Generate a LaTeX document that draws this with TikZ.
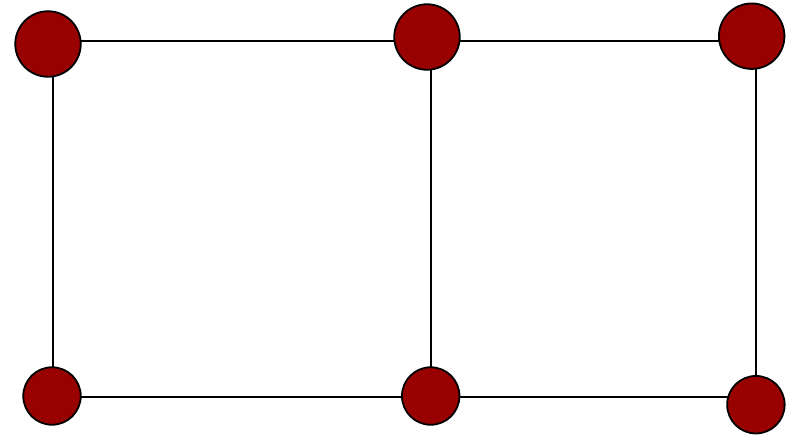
\documentclass[tikz,border=0pt]{standalone}
\definecolor{dotred}{HTML}{990000}
\begin{document}
\begin{tikzpicture}[x=1pt,y=-1pt,
  vert/.style={circle,draw=black,line width=1.8pt,fill=dotred,inner sep=0pt,outer sep=0pt},
  big/.style={vert,minimum size=65.5pt},
  small/.style={vert,minimum size=57.5pt},
  edge/.style={draw=black,line width=1.8pt}]
\useasboundingbox (0,0) rectangle (798,437);
% anchor points of the edges
\coordinate (a1) at (53,41.3);
\coordinate (a2) at (431,41.3);
\coordinate (a3) at (755.7,41.3);
\coordinate (a4) at (53,396.6);
\coordinate (a5) at (431,396.6);
\coordinate (a6) at (755.7,396.6);
\draw[edge] (a1) -- (a2) -- (a3);
\draw[edge] (a4) -- (a5) -- (a6);
\draw[edge] (a1) -- (a4);
\draw[edge] (a2) -- (a5);
\draw[edge] (a3) -- (a6);
% vertices
\node[big] (n1) at (48,44) {};
\node[big] (n2) at (427,37) {};
\node[big] (n3) at (751.7,36.2) {};
\node[small] (n4) at (52,396) {};
\node[small] (n5) at (430.7,396) {};
\node[small] (n6) at (755.9,404.7) {};
\end{tikzpicture}
\end{document}
